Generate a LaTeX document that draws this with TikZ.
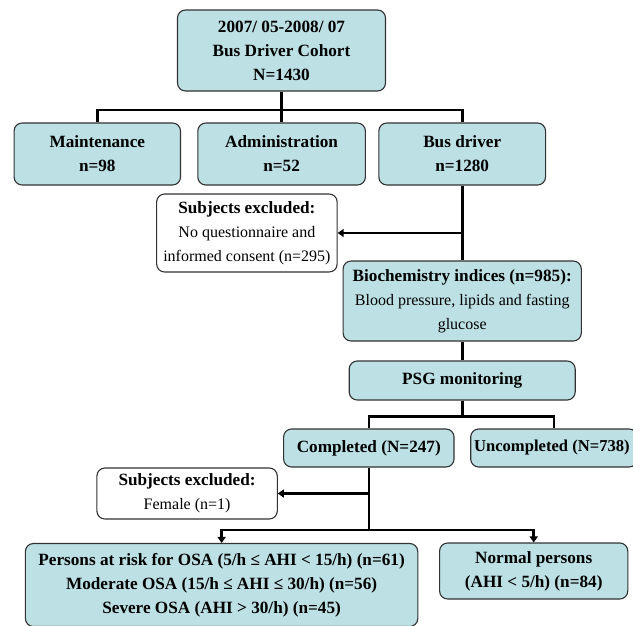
\documentclass[tikz,border=0pt]{standalone}
\usepackage{fontspec}
\setmainfont{Liberation Serif}
\usetikzlibrary{arrows.meta}
\definecolor{boxfill}{RGB}{188,224,228}
\definecolor{boxline}{RGB}{50,50,50}
\newcommand{\bfs}{\fontsize{17.2}{24}\selectfont\bfseries}
\newcommand{\rgs}{\fontsize{16}{24}\selectfont\mdseries}
\tikzset{
  box/.style={draw=boxline, line width=1.1pt, fill=boxfill, rounded corners=8pt,
    align=center, inner sep=0pt, font=\bfs},
  wbox/.style={box, fill=white},
  conn/.style={line width=2.6pt, black},
  arr/.style={conn, -{Triangle[length=6pt,width=8pt]}},
}
\begin{document}
\begin{tikzpicture}[x=1pt,y=-1pt]
\path[use as bounding box] (0,0) rectangle (633,625);
\clip (0,0) rectangle (633,625);

\node[box, minimum width=208pt, minimum height=81pt] (top) at (281.5,50.5)
  {2007/ 05-2008/ 07\\Bus Driver Cohort\\N=1430};
\node[box, minimum width=166.4pt, minimum height=62pt] (maint) at (97.3,154) {Maintenance\\n=98};
\node[box, minimum width=167.6pt, minimum height=62pt] (admin) at (281.6,154) {Administration\\n=52};
\node[box, minimum width=166.7pt, minimum height=62pt] (bus) at (462.2,154) {Bus driver\\n=1280};

\node[wbox, minimum width=180.5pt, minimum height=78pt] (ex1) at (246.9,233)
  {Subjects excluded:\\{\rgs No questionnaire and}\\{\rgs informed consent (n=295)}};
\node[box, minimum width=238.2pt, minimum height=80pt] (bio) at (462.2,301)
  {Biochemistry indices (n=985):\\{\rgs Blood pressure, lipids and fasting}\\{\rgs glucose}};
\node[box, minimum width=226pt, minimum height=39pt] (psg) at (462.2,380.5) {PSG monitoring};

\node[box, minimum width=170.4pt, minimum height=38pt] (comp) at (368.8,448) {Completed (N=247)};
\node[box, minimum width=166.4pt, minimum height=38pt] (uncomp) at (553.9,448)
  {\hspace*{-4pt}\fontsize{16.6}{24}\selectfont Uncompleted (N=738)};

\node[wbox, minimum width=180.4pt, minimum height=51pt] (ex2) at (187.1,493.5)
  {Subjects excluded:\\{\rgs Female (n=1)}};

\node[box, minimum width=392.4pt, minimum height=83pt] (risk) at (221.6,585)
  {Persons at risk for OSA (5/h ≤ AHI < 15/h) (n=61)\\Moderate OSA (15/h ≤ AHI ≤ 30/h) (n=56)\\Severe OSA (AHI > 30/h) (n=45)};
\node[box, minimum width=188.2pt, minimum height=56pt] (normal) at (533.7,571)
  {Normal persons\\(AHI < 5/h) (n=84)};

\coordinate (b1) at (281.5,110);
\coordinate (b2) at (462.2,416.7);
\coordinate (b3) at (368.8,530);

\draw[conn] (top.south) -- (b1);
\draw[conn] (maint.north) |- (b1) -| (bus.north);
\draw[conn] (admin.north) -- (admin.north |- b1);
\draw[conn] (bus.south) -- (bio.north);
\draw[arr] (bus.south |- ex1.east) -- (ex1.east);
\draw[conn] (bio.south) -- (psg.north);
\draw[conn] (psg.south) -- (b2);
\draw[conn] (comp.north) |- (b2) -| (uncomp.north);
\draw[conn] (comp.south) -- (b3);
\draw[arr] (comp.south |- ex2.east) -- (ex2.east);
\draw[arr] (b3) -| (risk.north);
\draw[arr] (b3) -| (normal.north);
\end{tikzpicture}
\end{document}
